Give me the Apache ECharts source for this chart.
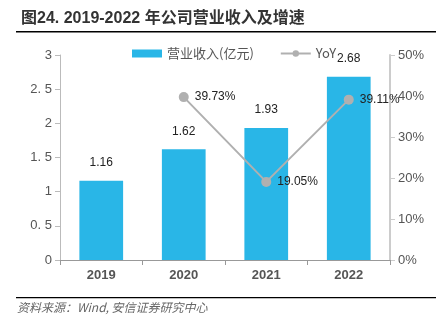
<!DOCTYPE html>
<html><head><meta charset="utf-8">
<script src="https://cdn.jsdelivr.net/npm/echarts@6/dist/echarts.min.js"></script>
<style>html,body{margin:0;padding:0;background:#fff}#c{width:446px;height:332px}</style>
</head><body><div id="c"></div>
<script>
const categories = ['2019', '2020', '2021', '2022'];
const revenue = [1.16, 1.62, 1.93, 2.68];
const yoy = [null, 39.73, 19.05, 39.11];
const leftTicks = ['0', '0. 5', '1', '1. 5', '2', '2. 5', '3'];
const rightTicks = ['0%', '10%', '20%', '30%', '40%', '50%'];

const chart = echarts.init(document.getElementById('c'));
chart.setOption({
  animation: false,
  title: {
    text: '图24. 2019-2022 年公司营业收入及增速',
    left: 16, top: 6,
    textStyle: { fontSize: 16, fontWeight: 'bold', color: '#333', fontFamily: 'Liberation Sans, Noto Sans CJK SC' }
  },
  graphic: [
    { type: 'rect', shape: { x: 16, y: 31, width: 420, height: 1.5 }, style: { fill: '#000' } },
    { type: 'rect', shape: { x: 16, y: 297, width: 420, height: 1.2 }, style: { fill: '#000' } },
    { type: 'text', left: 17, top: 301, style: { text: '资料来源：Wind, 安信证券研究中心', fontSize: 12, fontStyle: 'italic', fill: '#666', fontFamily: 'Noto Sans CJK SC' } }
  ],
  legend: {
    top: 42, left: 127, itemGap: 26, itemWidth: 30, itemHeight: 8,
    textStyle: { fontSize: 13, color: '#555', fontFamily: 'Noto Sans CJK SC' },
    data: [
      { name: '营业收入(亿元)', icon: 'rect' },
      { name: 'YoY' }
    ]
  },
  grid: { left: 60, right: 56, top: 55, bottom: 72 },
  xAxis: {
    type: 'category', data: categories,
    axisLine: { lineStyle: { color: '#999' } },
    axisTick: { show: true, lineStyle: { color: '#999' } },
    axisLabel: { fontSize: 13, color: '#555', fontWeight: 'bold', margin: 9, fontFamily: 'Liberation Sans' }
  },
  yAxis: [
    {
      type: 'value', min: 0, max: 3, interval: 0.5,
      axisLine: { show: true, lineStyle: { color: '#bbb' } },
      axisTick: { show: true, lineStyle: { color: '#bbb' } },
      splitLine: { show: false },
      axisLabel: { fontSize: 13, color: '#555', margin: 8, fontFamily: 'Liberation Sans',
        formatter: (v) => leftTicks[Math.round(v / 0.5)] }
    },
    {
      type: 'value', min: 0, max: 50, interval: 10,
      axisLine: { show: true, lineStyle: { color: '#ccc', width: 2 } },
      axisTick: { show: true, lineStyle: { color: '#ccc' } },
      splitLine: { show: false },
      axisLabel: { fontSize: 13, color: '#555', margin: 8, fontFamily: 'Liberation Sans',
        formatter: (v) => rightTicks[Math.round(v / 10)] }
    }
  ],
  series: [
    {
      name: '营业收入(亿元)', type: 'bar', data: revenue, barWidth: '53%',
      itemStyle: { color: '#29B6E7' },
      label: { show: true, position: 'top', distance: 12, fontSize: 12, color: '#222', fontFamily: 'Liberation Sans',
        formatter: (p) => p.value.toFixed(2) }
    },
    {
      name: 'YoY', type: 'line', yAxisIndex: 1, data: yoy,
      symbol: 'circle', symbolSize: 10,
      lineStyle: { color: '#B0B0B0', width: 2 },
      itemStyle: { color: '#B0B0B0' },
      label: { show: true, position: 'right', distance: 6, fontSize: 12, color: '#222', fontFamily: 'Liberation Sans',
        formatter: (p) => p.value.toFixed(2) + '%' }
    }
  ]
});
</script></body></html>
